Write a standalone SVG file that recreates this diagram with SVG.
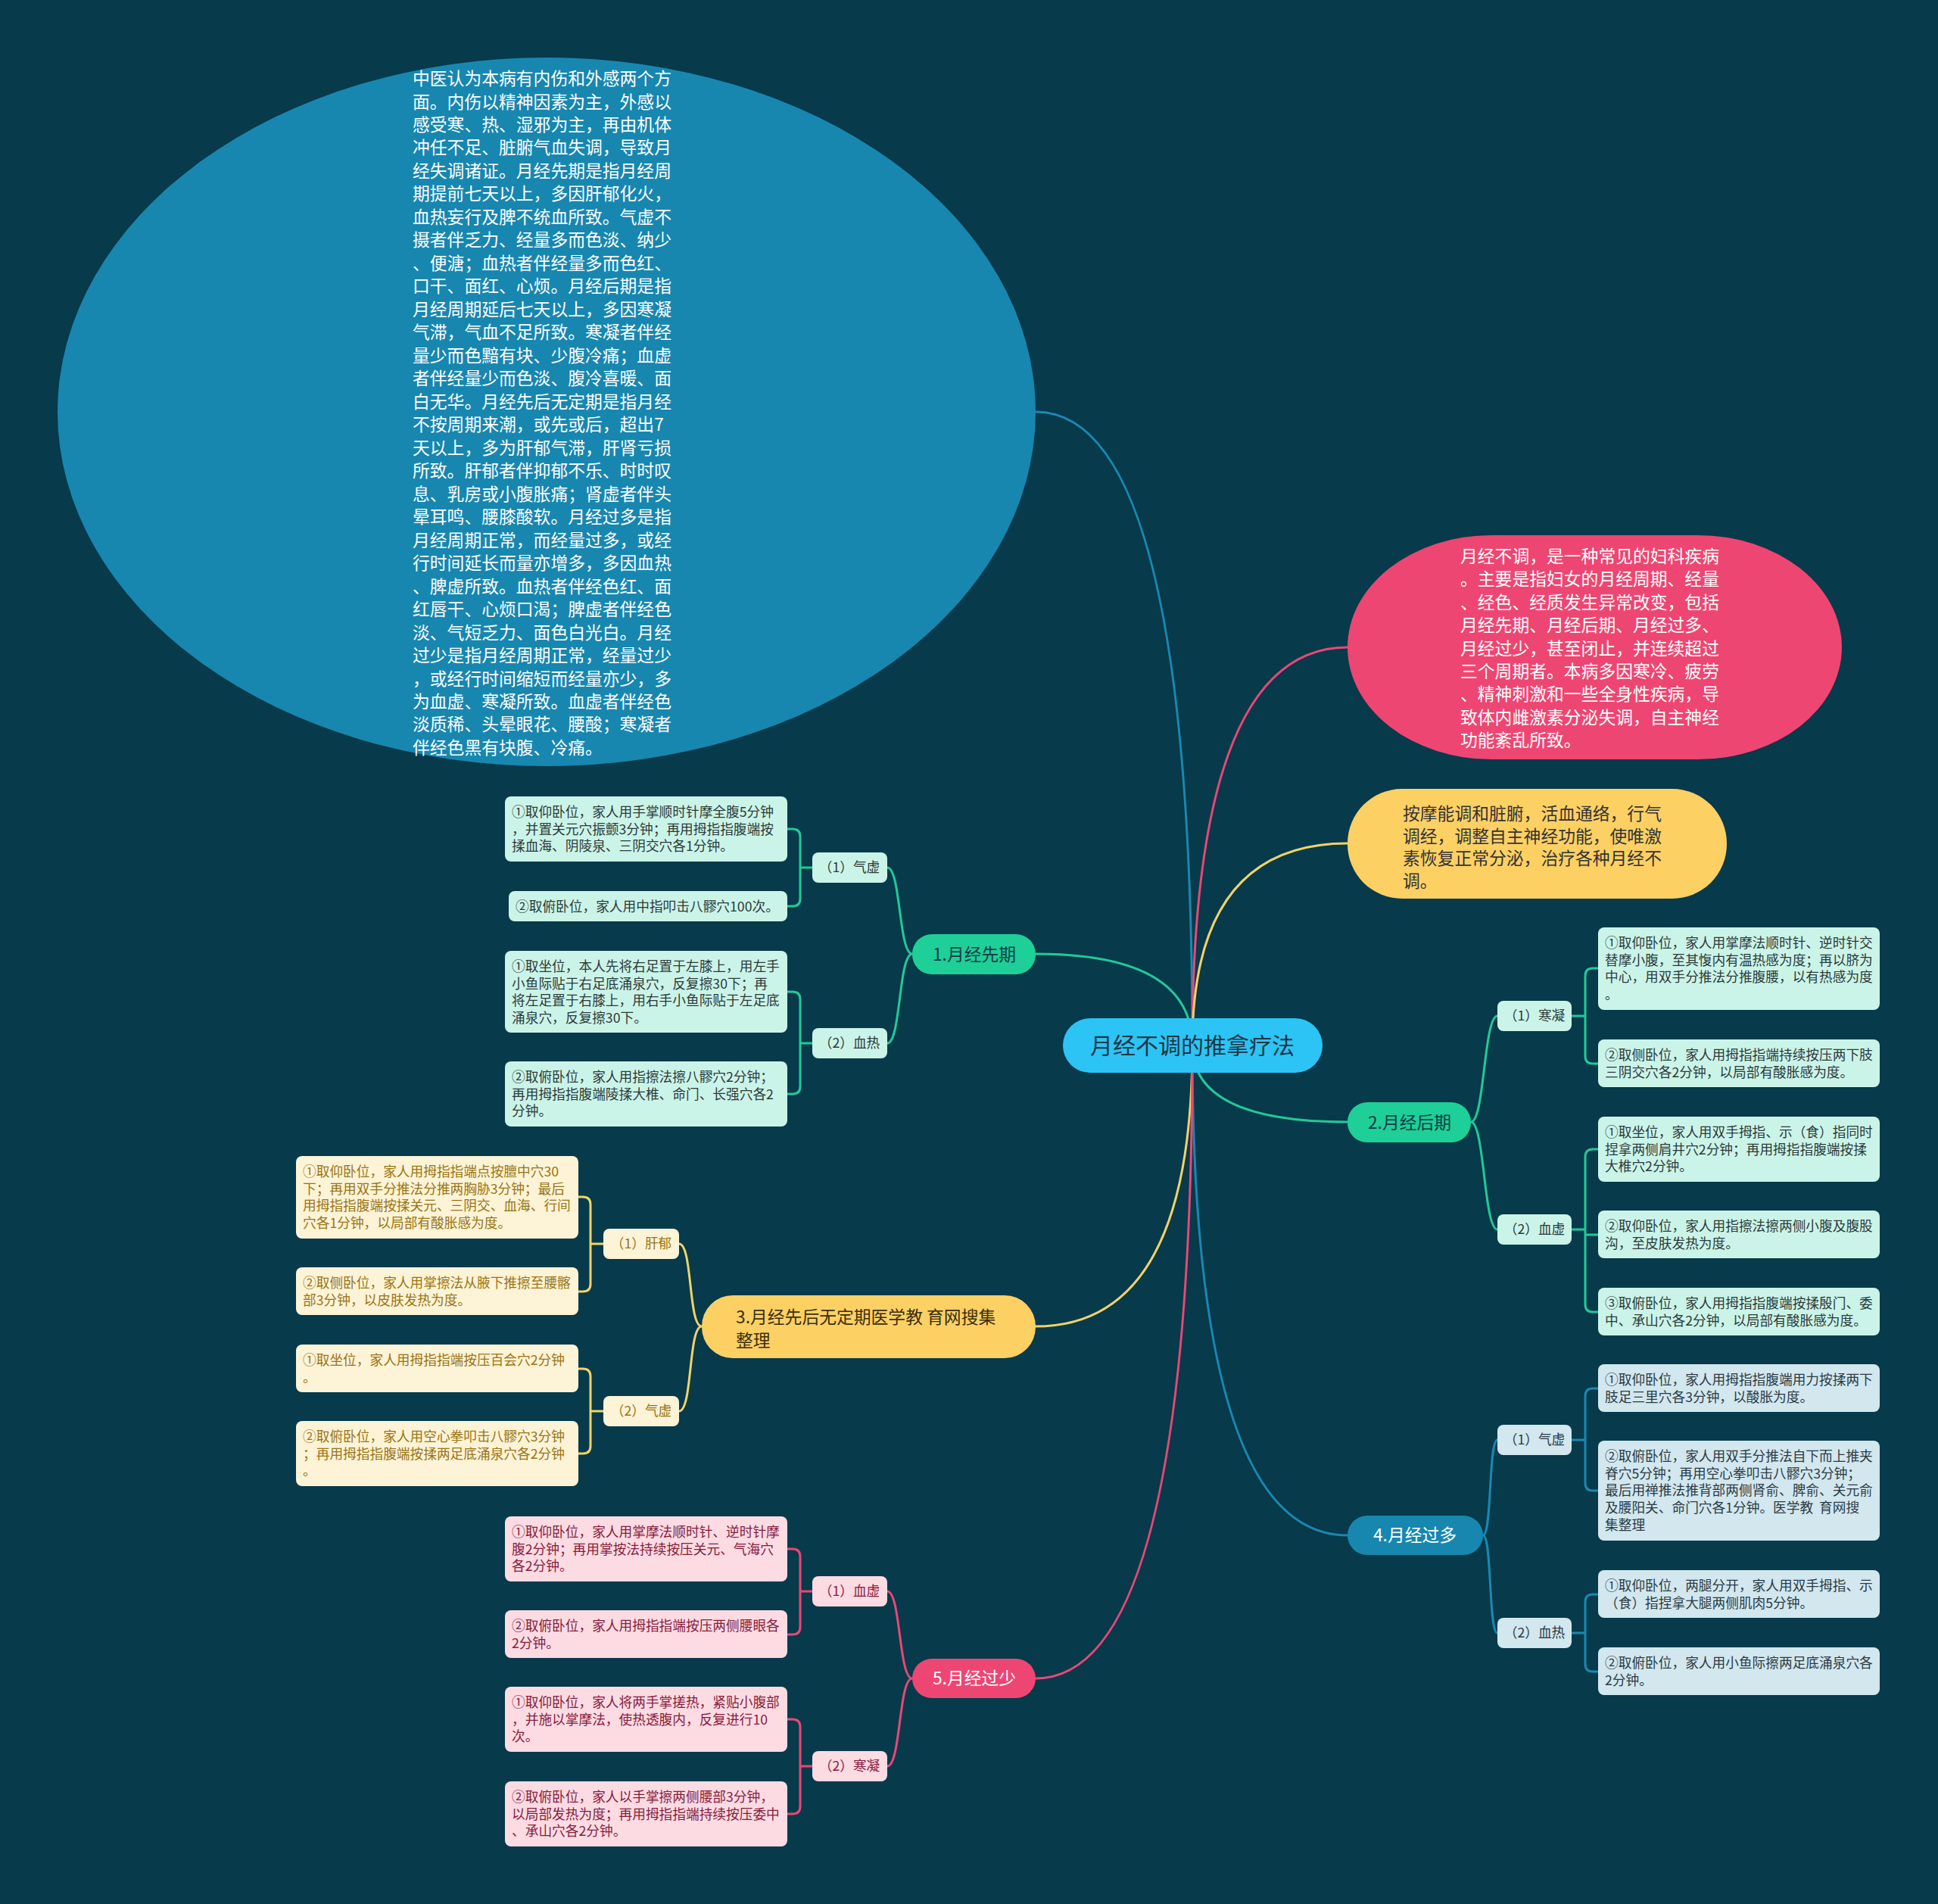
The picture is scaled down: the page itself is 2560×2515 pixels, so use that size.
<svg xmlns="http://www.w3.org/2000/svg" width="2560" height="2515" viewBox="0 0 2560 2515">
<style>
text{font-family:"Noto Sans CJK SC","Noto Sans",sans-serif}
.big{font-size:22.8px;fill:#ffffff}
.lf{font-size:17.7px}
.sub{font-size:17.7px;text-anchor:middle}
.l1{font-size:22.8px;text-anchor:middle}
.c{fill:none;stroke-width:3;stroke-linecap:round}
.cg{stroke:#22c99a}.cy{stroke:#f2d26a}.cp{stroke:#e94876}.cb{stroke:#1a88b2}
.fg{fill:#cbf4e8}.fy{fill:#fdf3d6}.fp{fill:#fcdbe3}.fb{fill:#d2e7ee}
.tg{fill:#2b3a3a}.ty{fill:#9a7414}.tp{fill:#861c3c}.tb{fill:#2b3a44}
</style>
<rect x="0" y="0" width="2560" height="2515" fill="#073a4b"/>
<g id="connectors">
<path class="c cb" d="M1575,1381Q1575,544 1368,544"/>
<path class="c cp" d="M1575,1381Q1575,855 1780,855"/>
<path class="c cy" d="M1575,1381Q1575,1114 1780,1114"/>
<path class="c cg" d="M1575,1381Q1575,1260 1368,1260"/>
<path class="c cg" d="M1575,1381Q1575,1482 1780,1482"/>
<path class="c cy" d="M1575,1381Q1575,1752 1368,1752"/>
<path class="c cb" d="M1575,1381Q1575,2028 1780,2028"/>
<path class="c cp" d="M1575,1381Q1575,2217 1368,2217"/>
<path class="c cg" d="M1172,1146C1190,1146 1187,1260 1205,1260M1172,1378C1190,1378 1187,1260 1205,1260"/>
<path class="c cy" d="M897,1643C915,1643 909,1752 927,1752M897,1864C915,1864 909,1752 927,1752"/>
<path class="c cp" d="M1172,2102C1190,2102 1187,2217 1205,2217M1172,2333C1190,2333 1187,2217 1205,2217"/>
<path class="c cg" d="M1978,1342C1960,1342 1961,1482 1943,1482M1978,1624C1960,1624 1961,1482 1943,1482"/>
<path class="c cb" d="M1978,1902C1966,1902 1971,2028 1959,2028M1978,2157C1966,2157 1971,2028 1959,2028"/>
<path class="c cg" d="M1073,1146H1057V1105Q1057,1095 1047,1095H1040M1073,1146H1057V1187Q1057,1197 1047,1197H1040"/>
<path class="c cg" d="M1073,1378H1057V1320Q1057,1310 1047,1310H1040M1073,1378H1057V1435Q1057,1445 1047,1445H1040"/>
<path class="c cy" d="M797,1643H780V1591Q780,1581 770,1581H764M797,1643H780V1696Q780,1706 770,1706H764"/>
<path class="c cy" d="M797,1864H780V1818Q780,1808 770,1808H764M797,1864H780V1910Q780,1920 770,1920H764"/>
<path class="c cp" d="M1073,2102H1057V2056Q1057,2046 1047,2046H1040M1073,2102H1057V2149Q1057,2159 1047,2159H1040"/>
<path class="c cp" d="M1073,2333H1057V2281Q1057,2271 1047,2271H1040M1073,2333H1057V2386Q1057,2396 1047,2396H1040"/>
<path class="c cg" d="M2076,1342H2094V1289Q2094,1279 2104,1279H2111M2076,1342H2094V1395Q2094,1405 2104,1405H2111"/>
<path class="c cg" d="M2076,1624H2094V1528Q2094,1518 2104,1518H2111M2076,1624H2094V1631H2111M2076,1624H2094V1723Q2094,1733 2104,1733H2111"/>
<path class="c cb" d="M2076,1902H2094V1844Q2094,1834 2104,1834H2111M2076,1902H2094V1959Q2094,1969 2104,1969H2111"/>
<path class="c cb" d="M2076,2157H2094V2116Q2094,2106 2104,2106H2111M2076,2157H2094V2198Q2094,2208 2104,2208H2111"/>
</g>
<g id="root"><rect x="1404" y="1345" width="343" height="72" rx="36" fill="#2cc4f4"/><text x="1575" y="1392" font-size="30" text-anchor="middle" fill="#1d3545">月经不调的推拿疗法</text></g>
<g id="intro-ellipse"><ellipse cx="722" cy="544" rx="646" ry="468" fill="#1787b0"/>
<text class="big"><tspan x="545" y="112">中医认为本病有内伤和外感两个方</tspan><tspan x="545" y="142.5">面。内伤以精神因素为主，外感以</tspan><tspan x="545" y="173">感受寒、热、湿邪为主，再由机体</tspan><tspan x="545" y="203.4">冲任不足、脏腑气血失调，导致月</tspan><tspan x="545" y="233.9">经失调诸证。月经先期是指月经周</tspan><tspan x="545" y="264.4">期提前七天以上，多因肝郁化火，</tspan><tspan x="545" y="294.9">血热妄行及脾不统血所致。气虚不</tspan><tspan x="545" y="325.4">摄者伴乏力、经量多而色淡、纳少</tspan><tspan x="545" y="355.8">、便溏；血热者伴经量多而色红、</tspan><tspan x="545" y="386.3">口干、面红、心烦。月经后期是指</tspan><tspan x="545" y="416.8">月经周期延后七天以上，多因寒凝</tspan><tspan x="545" y="447.3">气滞，气血不足所致。寒凝者伴经</tspan><tspan x="545" y="477.8">量少而色黯有块、少腹冷痛；血虚</tspan><tspan x="545" y="508.2">者伴经量少而色淡、腹冷喜暖、面</tspan><tspan x="545" y="538.7">白无华。月经先后无定期是指月经</tspan><tspan x="545" y="569.2">不按周期来潮，或先或后，超出7</tspan><tspan x="545" y="599.7">天以上，多为肝郁气滞，肝肾亏损</tspan><tspan x="545" y="630.2">所致。肝郁者伴抑郁不乐、时时叹</tspan><tspan x="545" y="660.6">息、乳房或小腹胀痛；肾虚者伴头</tspan><tspan x="545" y="691.1">晕耳鸣、腰膝酸软。月经过多是指</tspan><tspan x="545" y="721.6">月经周期正常，而经量过多，或经</tspan><tspan x="545" y="752.1">行时间延长而量亦增多，多因血热</tspan><tspan x="545" y="782.6">、脾虚所致。血热者伴经色红、面</tspan><tspan x="545" y="813">红唇干、心烦口渴；脾虚者伴经色</tspan><tspan x="545" y="843.5">淡、气短乏力、面色白光白。月经</tspan><tspan x="545" y="874">过少是指月经周期正常，经量过少</tspan><tspan x="545" y="904.5">，或经行时间缩短而经量亦少，多</tspan><tspan x="545" y="935">为血虚、寒凝所致。血虚者伴经色</tspan><tspan x="545" y="965.4">淡质稀、头晕眼花、腰酸；寒凝者</tspan><tspan x="545" y="995.9">伴经色黑有块腹、冷痛。</tspan></text></g>
<g id="intro-pink"><rect x="1780" y="707" width="653" height="296" rx="190" ry="148" fill="#ee4672"/>
<text class="big"><tspan x="1929" y="743">月经不调，是一种常见的妇科疾病</tspan><tspan x="1929" y="773.4">。主要是指妇女的月经周期、经量</tspan><tspan x="1929" y="803.8">、经色、经质发生异常改变，包括</tspan><tspan x="1929" y="834.2">月经先期、月经后期、月经过多、</tspan><tspan x="1929" y="864.6">月经过少，甚至闭止，并连续超过</tspan><tspan x="1929" y="895">三个周期者。本病多因寒冷、疲劳</tspan><tspan x="1929" y="925.4">、精神刺激和一些全身性疾病，导</tspan><tspan x="1929" y="955.8">致体内雌激素分泌失调，自主神经</tspan><tspan x="1929" y="986.2">功能紊乱所致。</tspan></text></g>
<g id="intro-yellow"><rect x="1780" y="1042" width="501" height="145" rx="72" fill="#fdd064"/>
<text font-size="22.8" fill="#333333"><tspan x="1853" y="1083">按摩能调和脏腑，活血通络，行气</tspan><tspan x="1853" y="1112.6">调经，调整自主神经功能，使唯激</tspan><tspan x="1853" y="1142.2">素恢复正常分泌，治疗各种月经不</tspan><tspan x="1853" y="1171.8">调。</tspan></text></g>
<g id="n1"><rect x="1205" y="1234" width="163" height="53" rx="26" fill="#1fcf98"/><text class="l1" x="1287" y="1269" fill="#0e3b43">1.月经先期</text></g>
<g id="n2"><rect x="1780" y="1456" width="163" height="53" rx="26" fill="#1fcf98"/><text class="l1" x="1862" y="1491" fill="#0e3b43">2.月经后期</text></g>
<g id="n3"><rect x="927" y="1711" width="441" height="83" rx="41" fill="#fdd064"/><text font-size="22.8" fill="#3a2e0c"><tspan x="972" y="1748">3.月经先后无定期医学教 育网搜集</tspan><tspan x="972" y="1779">整理</tspan></text></g>
<g id="n4"><rect x="1780" y="2002" width="179" height="52" rx="26" fill="#1787b0"/><text class="l1" x="1869" y="2036" fill="#ffffff">4.月经过多</text></g>
<g id="n5"><rect x="1205" y="2191" width="163" height="52" rx="26" fill="#ee4672"/><text class="l1" x="1287" y="2225" fill="#ffffff">5.月经过少</text></g>
<g id="n1-1"><rect class="fg" x="1073" y="1126" width="99" height="40" rx="8"/><text class="sub tg" x="1122" y="1152">（1）气虚</text></g>
<g id="n1-1a"><rect class="fg" x="667" y="1052" width="373" height="86" rx="8"/><text class="lf tg"><tspan x="676" y="1079">①取仰卧位，家人用手掌顺时针摩全腹5分钟</tspan><tspan x="676" y="1101.7">，并置关元穴振颤3分钟；再用拇指指腹端按</tspan><tspan x="676" y="1124.4">揉血海、阴陵泉、三阴交穴各1分钟。</tspan></text></g>
<g id="n1-1b"><rect class="fg" x="672" y="1177" width="368" height="40" rx="8"/><text class="lf tg" x="681" y="1204">②取俯卧位，家人用中指叩击八髎穴100次。</text></g>
<g id="n1-2"><rect class="fg" x="1073" y="1358" width="99" height="40" rx="8"/><text class="sub tg" x="1122" y="1384">（2）血热</text></g>
<g id="n1-2a"><rect class="fg" x="667" y="1256" width="373" height="108" rx="8"/><text class="lf tg"><tspan x="676" y="1283">①取坐位，本人先将右足置于左膝上，用左手</tspan><tspan x="676" y="1305.7">小鱼际贴于右足底涌泉穴，反复擦30下；再</tspan><tspan x="676" y="1328.4">将左足置于右膝上，用右手小鱼际贴于左足底</tspan><tspan x="676" y="1351.1">涌泉穴，反复擦30下。</tspan></text></g>
<g id="n1-2b"><rect class="fg" x="667" y="1402" width="373" height="86" rx="8"/><text class="lf tg"><tspan x="676" y="1429">②取俯卧位，家人用指擦法擦八髎穴2分钟；</tspan><tspan x="676" y="1451.7">再用拇指指腹端陵揉大椎、命门、长强穴各2</tspan><tspan x="676" y="1474.4">分钟。</tspan></text></g>
<g id="n3-1"><rect class="fy" x="797" y="1623" width="100" height="40" rx="8"/><text class="sub ty" x="847" y="1649">（1）肝郁</text></g>
<g id="n3-1a"><rect class="fy" x="391" y="1527" width="373" height="109" rx="8"/><text class="lf ty"><tspan x="400" y="1554">①取仰卧位，家人用拇指指端点按膻中穴30</tspan><tspan x="400" y="1576.7">下；再用双手分推法分推两胸胁3分钟；最后</tspan><tspan x="400" y="1599.4">用拇指指腹端按揉关元、三阴交、血海、行间</tspan><tspan x="400" y="1622.1">穴各1分钟，以局部有酸胀感为度。</tspan></text></g>
<g id="n3-1b"><rect class="fy" x="391" y="1674" width="373" height="63" rx="8"/><text class="lf ty"><tspan x="400" y="1701">②取侧卧位，家人用掌擦法从腋下推擦至腰髂</tspan><tspan x="400" y="1723.7">部3分钟，以皮肤发热为度。</tspan></text></g>
<g id="n3-2"><rect class="fy" x="797" y="1844" width="100" height="40" rx="8"/><text class="sub ty" x="847" y="1870">（2）气虚</text></g>
<g id="n3-2a"><rect class="fy" x="391" y="1776" width="373" height="63" rx="8"/><text class="lf ty"><tspan x="400" y="1803">①取坐位，家人用拇指指端按压百会穴2分钟</tspan><tspan x="400" y="1825.7">。</tspan></text></g>
<g id="n3-2b"><rect class="fy" x="391" y="1877" width="373" height="86" rx="8"/><text class="lf ty"><tspan x="400" y="1904">②取俯卧位，家人用空心拳叩击八髎穴3分钟</tspan><tspan x="400" y="1926.7">；再用拇指指腹端按揉两足底涌泉穴各2分钟</tspan><tspan x="400" y="1949.4">。</tspan></text></g>
<g id="n5-1"><rect class="fp" x="1073" y="2082" width="99" height="40" rx="8"/><text class="sub tp" x="1122" y="2108">（1）血虚</text></g>
<g id="n5-1a"><rect class="fp" x="667" y="2003" width="373" height="86" rx="8"/><text class="lf tp"><tspan x="676" y="2030">①取仰卧位，家人用掌摩法顺时针、逆时针摩</tspan><tspan x="676" y="2052.7">腹2分钟；再用掌按法持续按压关元、气海穴</tspan><tspan x="676" y="2075.4">各2分钟。</tspan></text></g>
<g id="n5-1b"><rect class="fp" x="667" y="2127" width="373" height="63" rx="8"/><text class="lf tp"><tspan x="676" y="2154">②取俯卧位，家人用拇指指端按压两侧腰眼各</tspan><tspan x="676" y="2176.7">2分钟。</tspan></text></g>
<g id="n5-2"><rect class="fp" x="1073" y="2313" width="99" height="40" rx="8"/><text class="sub tp" x="1122" y="2339">（2）寒凝</text></g>
<g id="n5-2a"><rect class="fp" x="667" y="2228" width="373" height="86" rx="8"/><text class="lf tp"><tspan x="676" y="2255">①取仰卧位，家人将两手掌搓热，紧贴小腹部</tspan><tspan x="676" y="2277.7">，并施以掌摩法，使热透腹内，反复进行10</tspan><tspan x="676" y="2300.4">次。</tspan></text></g>
<g id="n5-2b"><rect class="fp" x="667" y="2353" width="373" height="86" rx="8"/><text class="lf tp"><tspan x="676" y="2380">②取俯卧位，家人以手掌擦两侧腰部3分钟，</tspan><tspan x="676" y="2402.7">以局部发热为度；再用拇指指端持续按压委中</tspan><tspan x="676" y="2425.4">、承山穴各2分钟。</tspan></text></g>
<g id="n2-1"><rect class="fg" x="1978" y="1322" width="98" height="40" rx="8"/><text class="sub tg" x="2027" y="1348">（1）寒凝</text></g>
<g id="n2-1a"><rect class="fg" x="2111" y="1225" width="372" height="109" rx="8"/><text class="lf tg"><tspan x="2120" y="1252">①取仰卧位，家人用掌摩法顺时针、逆时针交</tspan><tspan x="2120" y="1274.7">替摩小腹，至其愎内有温热感为度；再以脐为</tspan><tspan x="2120" y="1297.4">中心，用双手分推法分推腹腰，以有热感为度</tspan><tspan x="2120" y="1320.1">。</tspan></text></g>
<g id="n2-1b"><rect class="fg" x="2111" y="1373" width="372" height="63" rx="8"/><text class="lf tg"><tspan x="2120" y="1400">②取侧卧位，家人用拇指指端持续按压两下肢</tspan><tspan x="2120" y="1422.7">三阴交穴各2分钟，以局部有酸胀感为度。</tspan></text></g>
<g id="n2-2"><rect class="fg" x="1978" y="1604" width="98" height="40" rx="8"/><text class="sub tg" x="2027" y="1630">（2）血虚</text></g>
<g id="n2-2a"><rect class="fg" x="2111" y="1475" width="372" height="86" rx="8"/><text class="lf tg"><tspan x="2120" y="1502">①取坐位，家人用双手拇指、示（食）指同时</tspan><tspan x="2120" y="1524.7">捏拿两侧肩井穴2分钟；再用拇指指腹端按揉</tspan><tspan x="2120" y="1547.4">大椎穴2分钟。</tspan></text></g>
<g id="n2-2b"><rect class="fg" x="2111" y="1599" width="372" height="63" rx="8"/><text class="lf tg"><tspan x="2120" y="1626">②取仰卧位，家人用指擦法擦两侧小腹及腹股</tspan><tspan x="2120" y="1648.7">沟，至皮肤发热为度。</tspan></text></g>
<g id="n2-2c"><rect class="fg" x="2111" y="1701" width="372" height="63" rx="8"/><text class="lf tg"><tspan x="2120" y="1728">③取俯卧位，家人用拇指指腹端按揉殷门、委</tspan><tspan x="2120" y="1750.7">中、承山穴各2分钟，以局部有酸胀感为度。</tspan></text></g>
<g id="n4-1"><rect class="fb" x="1978" y="1882" width="98" height="40" rx="8"/><text class="sub tb" x="2027" y="1908">（1）气虚</text></g>
<g id="n4-1a"><rect class="fb" x="2111" y="1802" width="372" height="63" rx="8"/><text class="lf tb"><tspan x="2120" y="1829">①取仰卧位，家人用拇指指腹端用力按揉两下</tspan><tspan x="2120" y="1851.7">肢足三里穴各3分钟，以酸胀为度。</tspan></text></g>
<g id="n4-1b"><rect class="fb" x="2111" y="1903" width="372" height="132" rx="8"/><text class="lf tb" xml:space="preserve"><tspan x="2120" y="1930">②取俯卧位，家人用双手分推法自下而上推夹</tspan><tspan x="2120" y="1952.7">脊穴5分钟；再用空心拳叩击八髎穴3分钟；</tspan><tspan x="2120" y="1975.4">最后用禅推法推背部两侧肾俞、脾俞、关元俞</tspan><tspan x="2120" y="1998.1">及腰阳关、命门穴各1分钟。医学教  育网搜</tspan><tspan x="2120" y="2020.8">集整理</tspan></text></g>
<g id="n4-2"><rect class="fb" x="1978" y="2137" width="98" height="40" rx="8"/><text class="sub tb" x="2027" y="2163">（2）血热</text></g>
<g id="n4-2a"><rect class="fb" x="2111" y="2074" width="372" height="63" rx="8"/><text class="lf tb"><tspan x="2120" y="2101">①取仰卧位，两腿分开，家人用双手拇指、示</tspan><tspan x="2120" y="2123.7">（食）指捏拿大腿两侧肌肉5分钟。</tspan></text></g>
<g id="n4-2b"><rect class="fb" x="2111" y="2176" width="372" height="63" rx="8"/><text class="lf tb"><tspan x="2120" y="2203">②取俯卧位，家人用小鱼际擦两足底涌泉穴各</tspan><tspan x="2120" y="2225.7">2分钟。</tspan></text></g>
</svg>
